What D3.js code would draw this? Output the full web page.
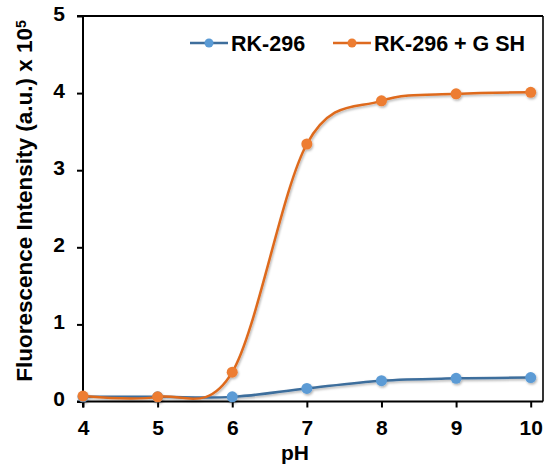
<!DOCTYPE html>
<html>
<head>
<meta charset="utf-8">
<script src="https://cdn.jsdelivr.net/npm/d3@7"></script>
<style>
  body { margin: 0; background: #fff; }
  svg { display: block; font-family: "Liberation Sans", Arial, sans-serif; font-weight: bold; }
</style>
</head>
<body>
<div id="chart"></div>
<script>
// --- data ---
const pH = [4, 5, 6, 7, 8, 9, 10];
const rk296 = [0.06, 0.06, 0.06, 0.17, 0.27, 0.30, 0.31];
const rk296Gsh = [0.07, 0.06, 0.38, 3.34, 3.90, 3.99, 4.01];
const yTicks = [0, 1, 2, 3, 4, 5];
const seriesNames = ['RK-296', 'RK-296 + G SH'];

// --- dimensions ---
const W = 545, H = 465;
const box = { left: 83, right: 543, top: 16, bottom: 401.5 };

const svg = d3.select('#chart').append('svg')
    .attr('width', W)
    .attr('height', H);

const defs = svg.append('defs');
defs.append('filter')
    .attr('id', 'shadow')
    .attr('x', '-50%').attr('y', '-50%')
    .attr('width', '200%').attr('height', '200%')
  .append('feDropShadow')
    .attr('dx', 1).attr('dy', 1.5)
    .attr('stdDeviation', 1)
    .attr('flood-color', '#000')
    .attr('flood-opacity', 0.3);

const x = d3.scaleLinear().domain([4, 10]).range([box.left, 530.7]);
const y = d3.scaleLinear().domain([0, 5]).range([box.bottom, box.top]);

// --- axes ---
const xAxis = svg.append('g')
    .attr('transform', `translate(0,${box.bottom})`)
    .call(d3.axisBottom(x).tickValues(pH).tickSize(6).tickPadding(12).tickFormat(d3.format('d')));
const yAxis = svg.append('g')
    .attr('transform', `translate(${box.left},0)`)
    .call(d3.axisLeft(y).tickValues(yTicks).tickSize(6).tickPadding(12).tickFormat(d3.format('d')));

[xAxis, yAxis].forEach(g => {
    g.select('.domain').remove();
    g.selectAll('.tick line').attr('stroke', '#000').attr('stroke-width', 2);
    g.selectAll('.tick text')
        .attr('fill', '#000')
        .style('font-family', '"Liberation Sans", Arial, sans-serif')
        .style('font-weight', 'bold')
        .style('font-size', '21px');
});
xAxis.selectAll('.tick text').attr('dy', null).attr('y', 33);
yAxis.selectAll('.tick text').attr('dy', '0.2em');

// frame
const frame = svg.append('g').attr('stroke', '#000').attr('fill', 'none');
frame.append('line').attr('x1', 77).attr('x2', box.right).attr('y1', box.bottom).attr('y2', box.bottom).attr('stroke-width', 2);
frame.append('line').attr('x1', box.left).attr('x2', box.left).attr('y1', box.top).attr('y2', box.bottom + 6).attr('stroke-width', 2);
frame.append('line').attr('x1', 77).attr('x2', box.right).attr('y1', box.top).attr('y2', box.top).attr('stroke-width', 1.8);
frame.append('line').attr('x1', box.right).attr('x2', box.right).attr('y1', box.top).attr('y2', box.bottom).attr('stroke-width', 1.6);

// axis titles
svg.append('text')
    .attr('x', 295).attr('y', 460)
    .attr('text-anchor', 'middle')
    .style('font-size', '21px')
    .text('pH');

const yTitle = svg.append('text')
    .attr('transform', 'translate(32,201) rotate(-90)')
    .attr('text-anchor', 'middle')
    .style('font-size', '22.5px');
yTitle.append('tspan').text('Fluorescence Intensity (a.u.) x 10');
yTitle.append('tspan').attr('dy', '-0.45em').style('font-size', '14px').text('5');

// --- series ---
const series = [
    { name: seriesNames[0], values: rk296, line: '#3E6E9C', dot: '#5B9BD5' },
    { name: seriesNames[1], values: rk296Gsh, line: '#DE6A1F', dot: '#ED7D31' }
];

const lineGen = d3.line()
    .x((d, i) => x(pH[i]))
    .y(d => y(d))
    .curve(d3.curveCardinal.tension(0));

const plot = svg.append('g').attr('filter', 'url(#shadow)');
series.forEach(s => {
    const g = plot.append('g');
    g.append('path')
        .attr('d', lineGen(s.values))
        .attr('fill', 'none')
        .attr('stroke', s.line)
        .attr('stroke-width', 2.5);
    g.selectAll('circle')
        .data(s.values)
        .join('circle')
        .attr('cx', (d, i) => x(pH[i]))
        .attr('cy', d => y(d))
        .attr('r', 5.5)
        .attr('fill', s.dot);
});

// --- legend ---
const legendPos = [190, 333];
series.forEach((s, i) => {
    const g = svg.append('g').attr('transform', `translate(${legendPos[i]},43)`);
    g.append('line').attr('x1', 0).attr('x2', 38).attr('y1', 0).attr('y2', 0)
        .attr('stroke', s.line).attr('stroke-width', 2.5);
    g.append('circle').attr('cx', 19).attr('cy', 0).attr('r', 4.5).attr('fill', s.dot);
    g.append('text').attr('x', 41).attr('y', 8)
        .style('font-size', '21.5px')
        .text(s.name);
});
</script>
</body>
</html>
